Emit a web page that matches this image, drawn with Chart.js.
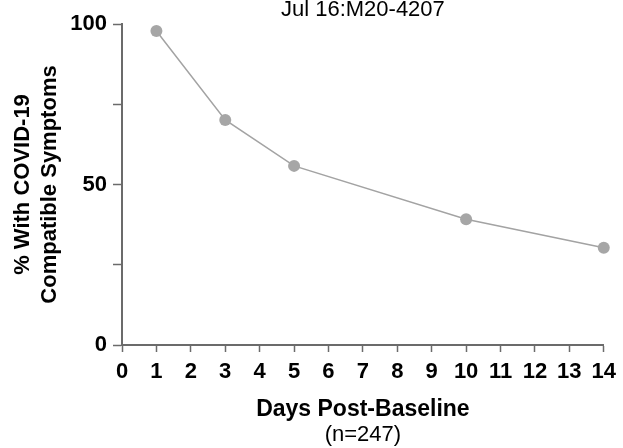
<!DOCTYPE html>
<html>
<head>
<meta charset="utf-8">
<script src="https://cdn.jsdelivr.net/npm/chart.js@4.4.1/dist/chart.umd.min.js"></script>
<style>
  html, body { margin: 0; padding: 0; background: #fff; }
  #wrap { width: 623px; height: 448px; }
</style>
</head>
<body>
<div id="wrap"><canvas id="symptomChart" width="623" height="448"></canvas></div>
<script>
// values
const days = [1, 3, 5, 10, 14];
const pctSymptoms = [97.8, 70.1, 55.8, 39.2, 30.3];
const yLabelled = [0, 50, 100];

const axisGrey = "#6b6b6b";
const font = "Arial, 'Liberation Sans', sans-serif";

document.addEventListener("DOMContentLoaded", function () {
    const ctx = document.getElementById("symptomChart").getContext("2d");

    new Chart(ctx, {
        type: "line",
        data: {
            datasets: [{
                data: days.map((d, i) => ({ x: d, y: pctSymptoms[i] })),
                borderColor: "#a3a3a3",
                borderWidth: 1.5,
                backgroundColor: "#a6a6a6",
                pointBackgroundColor: "#a6a6a6",
                pointBorderWidth: 0,
                pointRadius: 6,
                tension: 0,
                clip: false
            }]
        },
        options: {
            responsive: false,
            animation: false,
            layout: { padding: { left: 0, right: 15, top: 0, bottom: 0 } },
            plugins: {
                legend: { display: false },
                tooltip: { enabled: false },
                title: {
                    display: true,
                    fullSize: false,
                    text: "Jul 16:M20-4207",
                    color: "#000",
                    font: { family: font, size: 22, weight: "normal", lineHeight: 1 },
                    padding: { top: -1, bottom: 3 }
                },
                subtitle: {
                    display: true,
                    fullSize: false,
                    position: "bottom",
                    text: "(n=247)",
                    color: "#000",
                    font: { family: font, size: 22, weight: "normal", lineHeight: 1.2 },
                    padding: 0
                }
            },
            scales: {
                x: {
                    type: "linear",
                    min: 0,
                    max: 14,
                    afterFit: scale => { scale.height = 76.6; },
                    border: { color: axisGrey, width: 2 },
                    grid: { display: true, drawOnChartArea: false, drawTicks: true, tickLength: 7, color: axisGrey, tickWidth: 1.5 },
                    ticks: {
                        stepSize: 1,
                        padding: 7,
                        color: "#000",
                        font: { family: font, size: 22, weight: "bold" }
                    },
                    title: {
                        display: true,
                        text: "Days Post-Baseline",
                        color: "#000",
                        font: { family: font, size: 23, weight: "bold", lineHeight: 1 },
                        padding: { top: 0, bottom: 0 }
                    }
                },
                y: {
                    min: 0,
                    max: 100,
                    afterFit: scale => { scale.width = 122; },
                    border: { color: axisGrey, width: 2 },
                    grid: { display: true, drawOnChartArea: false, drawTicks: true, tickLength: 9, color: axisGrey, tickWidth: 1.5 },
                    ticks: {
                        stepSize: 25,
                        padding: 6,
                        color: "#000",
                        font: { family: font, size: 22, weight: "bold" },
                        callback: v => yLabelled.includes(v) ? v : ""
                    },
                    title: {
                        display: true,
                        text: ["% With COVID-19", "Compatible Symptoms"],
                        color: "#000",
                        font: { family: font, size: 22, weight: "bold", lineHeight: 1.2 },
                        padding: { top: 10, bottom: 0 }
                    }
                }
            }
        }
    });
});
</script>
</body>
</html>
